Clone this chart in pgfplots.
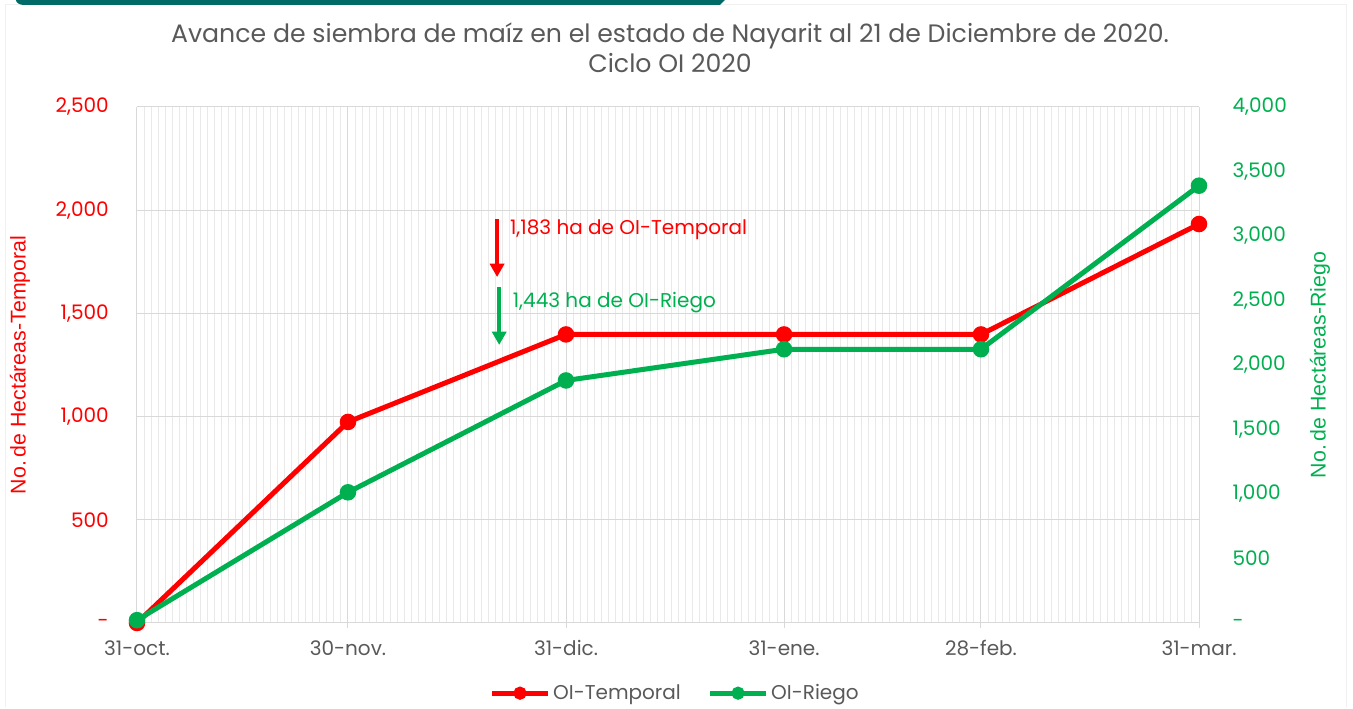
\documentclass[border=0pt]{standalone}
\usepackage{pgfplots}
\pgfplotsset{compat=1.18}
\usepackage{fontspec}
\setmainfont{Poppins}
\newfontfamily\arialf{Liberation Sans}
\usetikzlibrary{arrows.meta}
\definecolor{cred}{HTML}{FF0000}
\definecolor{cgreen}{HTML}{00B050}
\definecolor{ctext}{HTML}{595959}
\definecolor{cteal}{HTML}{006B66}
\definecolor{cgrid}{HTML}{D9D9D9}
\definecolor{cminor}{HTML}{E9E9E9}
\begin{document}
\begin{tikzpicture}
\useasboundingbox (0pt,0pt) rectangle (1014.75pt,531.75pt);
% frame
\draw[color=gray!12, line width=0.75pt] (3.75pt,528pt) -- (3.75pt,1.5pt) (3.75pt,528pt) -- (1009.5pt,528pt) -- (1009.5pt,1.5pt);
\fill[cteal] (12pt,531.75pt) -- (543.75pt,531.75pt) -- (540pt,528pt) -- (18pt,528pt) arc (270:180:6pt and 3.75pt) -- cycle;
% title
\node[font=\fontsize{18.9}{22.5}\selectfont, text=ctext, align=center] at (502.5pt,495.75pt) {Avance de siembra de maíz en el estado de Nayarit al 21 de Diciembre de 2020.\\Ciclo OI 2020};
\begin{axis}[
  at={(102.75pt,64.5pt)}, anchor=south west,
  scale only axis, width=796.5pt, height=387pt,
  xmin=0, xmax=151, ymin=0, ymax=2500,
  axis line style={cgrid, line width=0.75pt},
  xtick={0,30,61,92,120,151},
  xticklabels={31-oct.,30-nov.,31-dic.,31-ene.,28-feb.,31-mar.},
  minor xtick={1,...,150},
  ytick={0,500,1000,1500,2000,2500},
  yticklabels={-,500,{1,000},{1,500},{2,000},{2,500}},
  grid=both,
  major grid style={cgrid, line width=0.75pt},
  minor grid style={cminor, line width=0.75pt},
  tick align=outside,
  major tick length=4pt, minor tick length=0pt,
  xtick style={cgrid, line width=0.75pt},
  ytick style={draw=none},
  xticklabel style={font=\fontsize{15}{18}\selectfont, text=ctext, inner sep=0pt, anchor=north, yshift=-9pt},
  yticklabel style={font=\fontsize{15}{18}\selectfont, text=cred, inner sep=0pt, anchor=east, xshift=-17pt},
  axis y line*=left, axis x line*=bottom,
  ylabel={\arialf No.\,de Hectáreas-Temporal},
  ylabel style={font=\fontsize{16}{19}\selectfont, text=cred, at={(axis description cs:-0.1102,0.5)}, anchor=center},
  clip=false,
]
\addplot[cred, line width=3.75pt, mark=*, mark size=4.3pt, mark options={solid}] coordinates {
 (0,0) (30,974) (61,1398) (92,1398) (120,1398) (151,1933)};
\draw[cred, line width=2.6pt, -{Triangle[width=10.5pt,length=10pt]}] (axis cs:51.2,1955) -- (axis cs:51.2,1676);
\node[anchor=west, text=cred, font=\fontsize{15}{18}\selectfont, inner sep=0pt] at (axis cs:53.0,1904) {1,183 ha de OI-Temporal};
\draw[cgreen, line width=2.6pt, -{Triangle[width=10.5pt,length=10pt]}] (axis cs:51.5,1628) -- (axis cs:51.5,1347);
\node[anchor=west, text=cgreen, font=\fontsize{15}{18}\selectfont, inner sep=0pt] at (axis cs:53.4,1550) {1,443 ha de OI-Riego};
\end{axis}
\begin{axis}[
  at={(102.75pt,64.5pt)}, anchor=south west,
  scale only axis, width=796.5pt, height=387pt,
  xmin=0, xmax=151, ymin=0, ymax=4000,
  axis x line=none, axis y line*=right,
  axis line style={draw=none},
  ytick={0,500,1000,1500,2000,2500,3000,3500,4000},
  yticklabels={-,500,{1,000},{1,500},{2,000},{2,500},{3,000},{3,500},{4,000}},
  ytick style={draw=none},
  yticklabel style={font=\fontsize{15}{18}\selectfont, text=cgreen, inner sep=0pt, anchor=west, xshift=25pt},
  ylabel={\arialf No.\,de Hectáreas-Riego},
  ylabel style={font=\fontsize{16}{19}\selectfont, text=cgreen, at={(axis description cs:1.1139,0.5)}, anchor=center, rotate=0},
  legend columns=2,
  legend style={at={(0.507,-0.136)}, anchor=center, draw=none, fill=none,
    font=\fontsize{15}{18}\selectfont, text=ctext,
    /tikz/every even column/.append style={column sep=18pt}},
  legend image code/.code={\draw[#1, line width=3.75pt, mark size=3pt, mark repeat=2, mark phase=2] plot coordinates {(0pt,0pt) (21pt,0pt) (42pt,0pt)};},
  clip=false,
]
\addlegendimage{cred, mark=*}
\addlegendentry{OI-Temporal}
\addplot[cgreen, line width=3.75pt, mark=*, mark size=4.3pt, mark options={solid}] coordinates {
 (0,22) (30,1013) (61,1880) (92,2122) (120,2122) (151,3390)};
\addlegendentry{OI-Riego}
\end{axis}
\end{tikzpicture}
\end{document}
